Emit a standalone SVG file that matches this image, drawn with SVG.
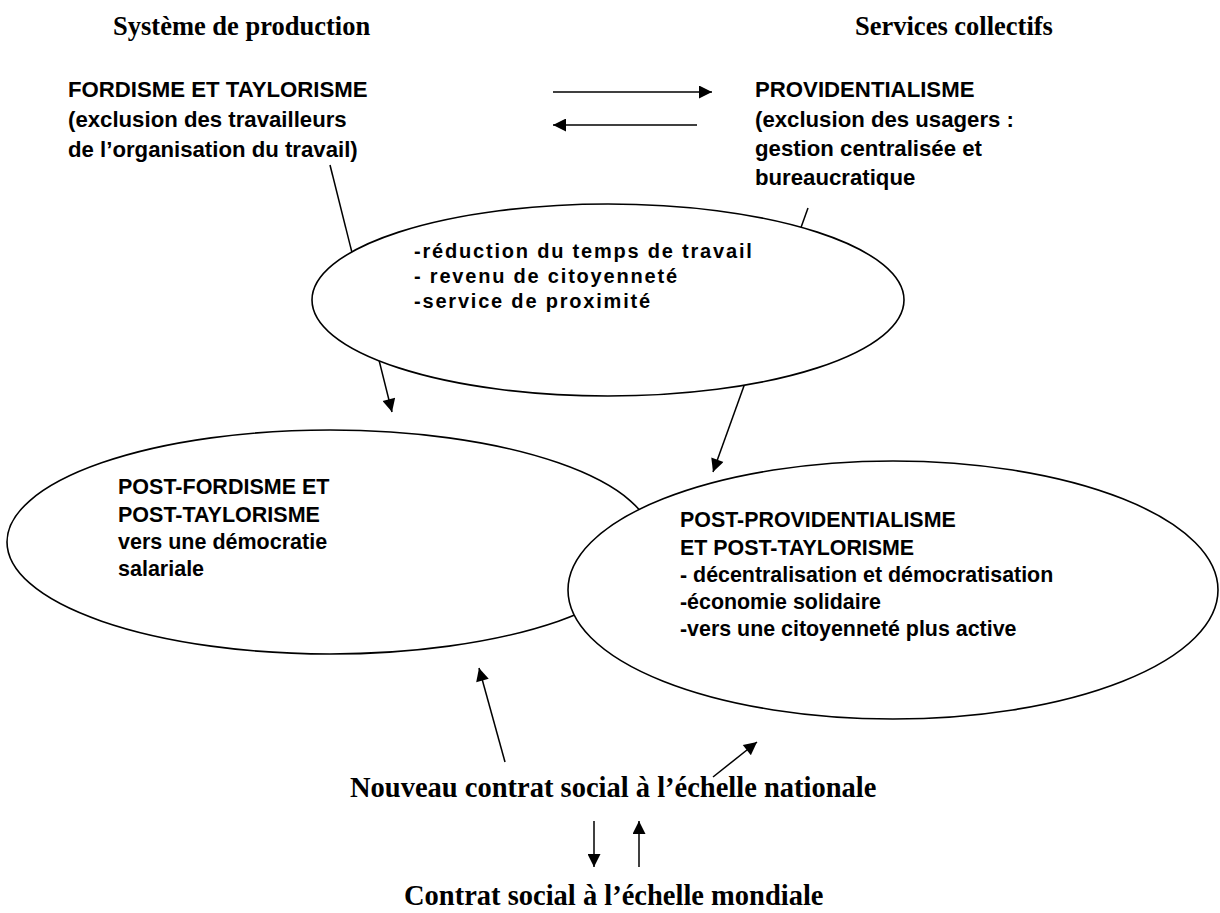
<svg xmlns="http://www.w3.org/2000/svg" width="1220" height="913" viewBox="0 0 1220 913">
<style>
.ser{font-family:"Liberation Serif","Times New Roman",serif;font-weight:bold;fill:#000}
.sans{font-family:"Liberation Sans",Arial,sans-serif;font-weight:bold;fill:#000}
.ell{fill:#fff;stroke:#000;stroke-width:1.6}
.ln{stroke:#000;stroke-width:1.5;fill:none}
</style>
<defs>
<marker id="ah" viewBox="0 0 10 10" refX="10" refY="5" markerWidth="16" markerHeight="13" markerUnits="userSpaceOnUse" orient="auto">
<path d="M0,0 L10,5 L0,10 z" fill="#000"/>
</marker>
</defs>
<g id="titles">
<text class="ser" x="113" y="35" font-size="26.5">Système de production</text>
<text class="ser" x="855" y="35" font-size="26.5">Services collectifs</text>
</g>
<g id="connectors">
<line class="ln" x1="553" y1="92" x2="712" y2="92" marker-end="url(#ah)"/>
<line class="ln" x1="697" y1="125" x2="553" y2="125" marker-end="url(#ah)"/>
<line class="ln" x1="330" y1="165" x2="392" y2="412" marker-end="url(#ah)"/>
<line class="ln" x1="808" y1="208" x2="713" y2="472" marker-end="url(#ah)"/>
<line class="ln" x1="505" y1="762" x2="479" y2="668" marker-end="url(#ah)"/>
<line class="ln" x1="713" y1="777" x2="757" y2="742" marker-end="url(#ah)"/>
<line class="ln" x1="594" y1="821" x2="594" y2="867" marker-end="url(#ah)"/>
<line class="ln" x1="639" y1="867" x2="639" y2="821" marker-end="url(#ah)"/>
</g>
<g id="fordisme">
<text class="sans" font-size="22.2"><tspan x="68" y="97">FORDISME ET TAYLORISME</tspan><tspan x="68" y="127">(exclusion des travailleurs</tspan><tspan x="68" y="157">de l’organisation du travail)</tspan></text>
</g>
<g id="providentialisme">
<text class="sans" font-size="22.2"><tspan x="755" y="97">PROVIDENTIALISME</tspan><tspan x="755" y="127">(exclusion des usagers :</tspan><tspan x="755" y="156">gestion centralisée et</tspan><tspan x="755" y="185">bureaucratique</tspan></text>
</g>
<g id="mesures">
<ellipse class="ell" cx="608" cy="300" rx="296" ry="96"/>
<text class="sans" font-size="20" letter-spacing="1.8"><tspan x="414" y="258">-réduction du temps de travail</tspan><tspan x="414" y="283">- revenu de citoyenneté</tspan><tspan x="414" y="308">-service de proximité</tspan></text>
</g>
<g id="postfordisme">
<ellipse class="ell" cx="330" cy="542" rx="323" ry="112"/>
<text class="sans" font-size="21.5"><tspan x="118" y="494">POST-FORDISME ET</tspan><tspan x="118" y="522">POST-TAYLORISME</tspan><tspan x="118" y="549">vers une démocratie</tspan><tspan x="118" y="576">salariale</tspan></text>
</g>
<g id="postprovidentialisme">
<ellipse class="ell" cx="893" cy="590" rx="325" ry="129"/>
<text class="sans" font-size="21.4"><tspan x="680" y="527">POST-PROVIDENTIALISME</tspan><tspan x="680" y="555">ET POST-TAYLORISME</tspan><tspan x="680" y="582">- décentralisation et démocratisation</tspan><tspan x="680" y="609">-économie solidaire</tspan><tspan x="680" y="636">-vers une citoyenneté plus active</tspan></text>
</g>
<g id="national">
<text class="ser" x="350" y="797" font-size="28.5">Nouveau contrat social à l’échelle nationale</text>
</g>
<g id="mondial">
<text class="ser" x="404" y="905" font-size="28.5">Contrat social à l’échelle mondiale</text>
</g>
</svg>
